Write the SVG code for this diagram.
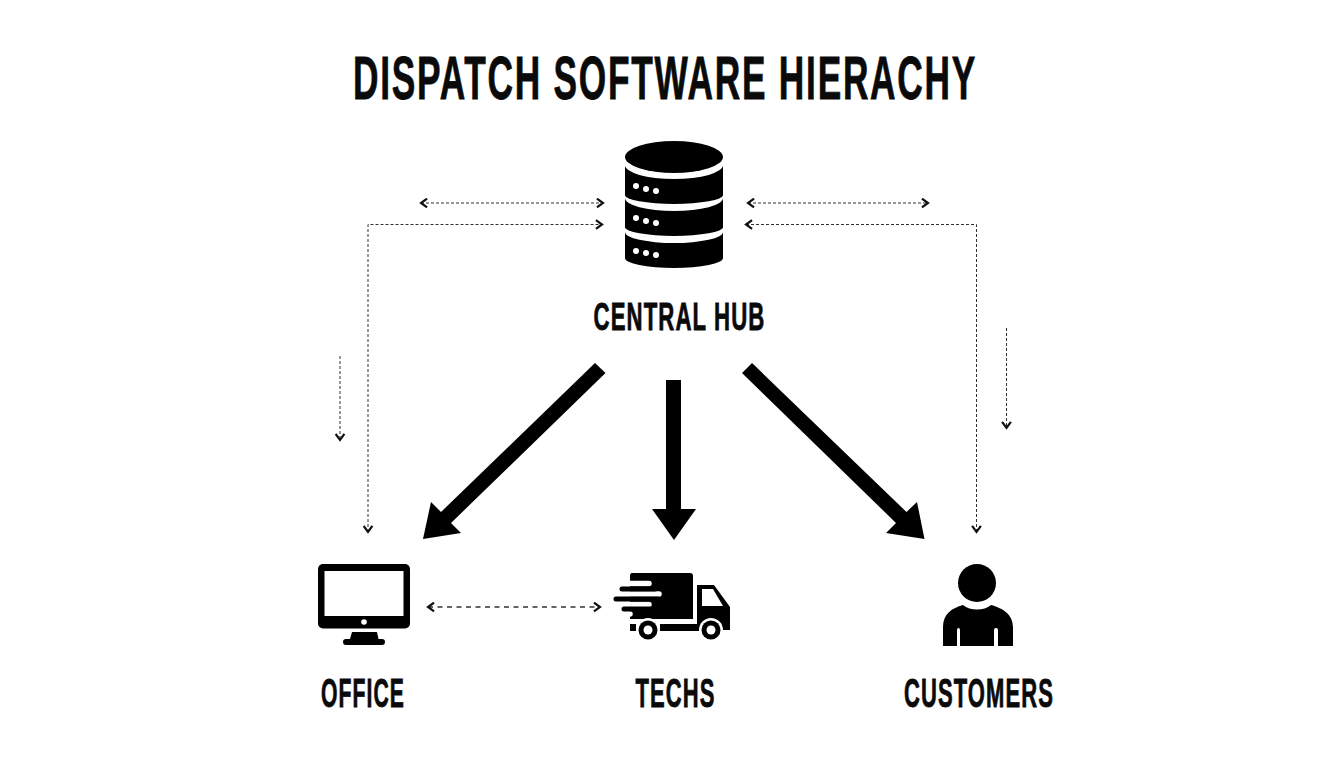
<svg xmlns="http://www.w3.org/2000/svg" width="1344" height="768" viewBox="0 0 1344 768">
<defs>
<marker id="ah" viewBox="0 0 10 10" refX="8" refY="5" markerWidth="11" markerHeight="11" markerUnits="userSpaceOnUse" orient="auto-start-reverse"><path d="M2.500 1L8 5L2.500 9" fill="none" stroke="#111" stroke-width="2"/></marker>
</defs>
<style>
text{font-family:"Liberation Sans",Arimo,sans-serif;font-weight:700;fill:#0a0a0a;stroke:#0a0a0a;stroke-width:.8;text-anchor:middle;letter-spacing:.05em}
.d{fill:none;stroke:#333;stroke-width:1;stroke-dasharray:3 2;marker-end:url(#ah)}
.b{marker-start:url(#ah)}
.t{fill:#000;stroke:none}
.sw{fill:none;stroke:#fff;stroke-width:5.500;stroke-linecap:round}
.sb{fill:none;stroke:#000;stroke-width:5;stroke-linecap:round}
</style>
<rect width="1344" height="768" fill="#fff"/>
<text id="title" x="665" y="98.500" font-size="61" textLength="624" lengthAdjust="spacingAndGlyphs">DISPATCH SOFTWARE HIERACHY</text>
<g id="connectors">
<path class="d b" d="M421 203H603"/>
<path class="d b" d="M368 532V224.500H602"/>
<path class="d b" d="M748 203H928"/>
<path class="d b" d="M976.500 532V224.500H746"/>
<path class="d" d="M340 356V440"/>
<path class="d" d="M1006.500 328V428"/>
<path class="d b" d="M428 607H600" style="stroke-width:1.500;stroke-dasharray:5 4.500"/>
<path class="t" d="M595 363L605.500 373L451 523L461 533L423 539L431 502L441 512Z"/>
<path class="t" d="M666 380H681V509H696L674 540L652 509H666Z"/>
<path class="t" d="M752 363L742 373L896 523L886 533L924.500 539L917 502L906.500 512Z"/>
</g>
<g id="hub">
<ellipse cx="674" cy="157" rx="49" ry="16"/>
<path d="M625 165A49 14 0 0 0 723 165V195A49 9 0 0 1 625 195Z"/>
<path d="M625 198A49 13 0 0 0 723 198V227A49 9 0 0 1 625 227Z"/>
<path d="M625 232A49 11 0 0 0 723 232V258A49 10 0 0 1 625 258Z"/>
<g fill="#fff"><circle cx="636" cy="186" r="3"/><circle cx="646" cy="189" r="3"/><circle cx="656" cy="191" r="3"/><circle cx="636" cy="218" r="3"/><circle cx="646" cy="221" r="3"/><circle cx="656" cy="223" r="3"/><circle cx="636" cy="251" r="3"/><circle cx="646" cy="253" r="3"/><circle cx="656" cy="255" r="3"/></g>
<text x="679.500" y="330" font-size="38" textLength="172" lengthAdjust="spacingAndGlyphs">CENTRAL HUB</text>
</g>
<g id="office">
<rect x="318" y="564" width="92" height="64.500" rx="5"/>
<rect x="324.500" y="571" width="79" height="45" fill="#fff"/>
<circle cx="364" cy="622" r="2.800" fill="#fff"/>
<path d="M352 632H377L378.500 639H382Q385 639 385 642Q385 645 382 645H346Q343 645 343 642Q343 639 346 639H350Z"/>
<text x="363" y="707" font-size="40" textLength="84" lengthAdjust="spacingAndGlyphs">OFFICE</text>
</g>
<g id="techs">
<path d="M632 573H690Q693 573 693 576V619H630V576Q630 573 632 573Z"/>
<path class="sw" d="M610 583.500H649M610 604.500H649M610 594H659M610 614H630"/>
<path class="sb" d="M622 589H655M616 599H658M624 609H655"/>
<path d="M697 585H714L730 607V630H697Z"/>
<path d="M702 589H713L723 606H702Z" fill="#fff"/>
<path d="M630 624H636V631H630ZM660 624H700V631H660Z"/>
<path d="M630 620.500H693" stroke="#fff" stroke-width="2" fill="none"/>
<circle cx="648" cy="630" r="12" fill="#fff"/><circle cx="711" cy="630" r="12" fill="#fff"/>
<circle cx="648" cy="630" r="9.500"/><circle cx="648" cy="630" r="4.500" fill="#fff"/>
<circle cx="711" cy="630" r="9.500"/><circle cx="711" cy="630" r="4.500" fill="#fff"/>
<text x="675.500" y="707" font-size="40" textLength="80" lengthAdjust="spacingAndGlyphs">TECHS</text>
</g>
<g id="customers">
<circle cx="977" cy="583" r="19"/>
<path d="M943 646V627C943 614 952 608 963 605C970 611 984 611 991 605C1002 608 1013 614 1013 627V646H998V630Q998 628 996 628Q994 628 994 630V646H960V630Q960 628 958.500 628Q957 628 957 630V646Z"/>
<text x="979" y="707" font-size="40" textLength="150" lengthAdjust="spacingAndGlyphs">CUSTOMERS</text>
</g>
</svg>
